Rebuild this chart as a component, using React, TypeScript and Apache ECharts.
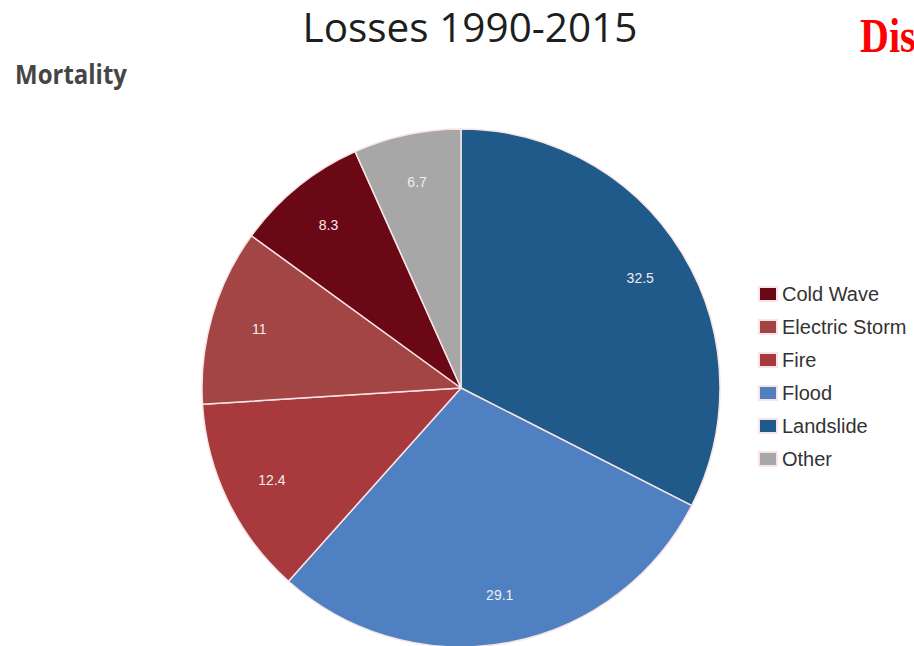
import React, { useEffect, useRef } from "react";
import * as echarts from "echarts";

const categories = ["Landslide", "Flood", "Fire", "Electric Storm", "Cold Wave", "Other"];
const values = [32.5, 29.1, 12.4, 11, 8.3, 6.7];
const colors = ["#1f5a8a", "#4f81c2", "#a8393c", "#a34445", "#6b0816", "#a7a7a7"];
const legendOrder = ["Cold Wave", "Electric Storm", "Fire", "Flood", "Landslide", "Other"];
const titleText = "Losses 1990-2015";
const subtitleText = "Mortality";
const cornerText = "Disasters";

export default function App() {
  const ref = useRef<HTMLDivElement>(null);
  useEffect(() => {
    if (!ref.current) return;
    const chart = echarts.init(ref.current, null, { renderer: "svg" });
    const R = 259;
    const center = [461, 388];
    const data = categories.map((c, i) => ({ name: c, value: values[i], itemStyle: { color: colors[i] } }));
    chart.setOption({
      animation: false,
      backgroundColor: "#ffffff",
      title: {
        text: titleText,
        left: 465,
        top: 1,
        textAlign: "center",
        textStyle: { fontFamily: "Open Sans", fontWeight: "normal", fontSize: 40.5, color: "#1e1e1e" },
      },
      graphic: [
        {
          type: "text",
          x: 15,
          y: 73,
          scaleY: 1.15,
          silent: true,
          style: {
            text: subtitleText,
            fontFamily: "Open Sans",
            fontWeight: "bold",
            fontSize: 24,
            fill: "#454545",
            align: "left",
            verticalAlign: "middle",
          },
        },
        {
          type: "text",
          x: 860,
          y: 36,
          scaleY: 1.2,
          silent: true,
          style: {
            text: cornerText,
            fontFamily: "Liberation Serif",
            fontWeight: "bold",
            fontSize: 40,
            fill: "#ff0000",
            align: "left",
            verticalAlign: "middle",
          },
        },
      ],
      legend: {
        data: legendOrder,
        orient: "vertical",
        left: 753,
        top: 279,
        itemWidth: 18,
        itemHeight: 14,
        itemGap: 13,
        icon: "rect",
        textStyle: { fontFamily: "Liberation Sans", fontSize: 20, color: "#333333" },
      },
      series: [
        {
          type: "pie",
          center,
          radius: [0, R],
          startAngle: 90,
          clockwise: true,
          data,
          label: { show: false },
          labelLine: { show: false },
          itemStyle: { borderColor: "#f8e4e4", borderWidth: 1.5 },
          silent: true,
        },
        {
          type: "pie",
          center,
          radius: [R * 0.6, R],
          startAngle: 90,
          clockwise: true,
          data: categories.map((c, i) => ({ name: c, value: values[i] })),
          itemStyle: { color: "rgba(0,0,0,0)", borderWidth: 0 },
          label: {
            show: true,
            position: "inside",
            formatter: "{c}",
            fontFamily: "Liberation Sans",
            fontSize: 14,
            color: "#f3eded",
          },
          labelLine: { show: false },
          silent: true,
        },
      ],
    });
    return () => chart.dispose();
  }, []);
  return (
    <div
      ref={ref}
      style={{ position: "fixed", left: 0, top: 0, width: 914, height: 646, overflow: "hidden" }}
    />
  );
}
